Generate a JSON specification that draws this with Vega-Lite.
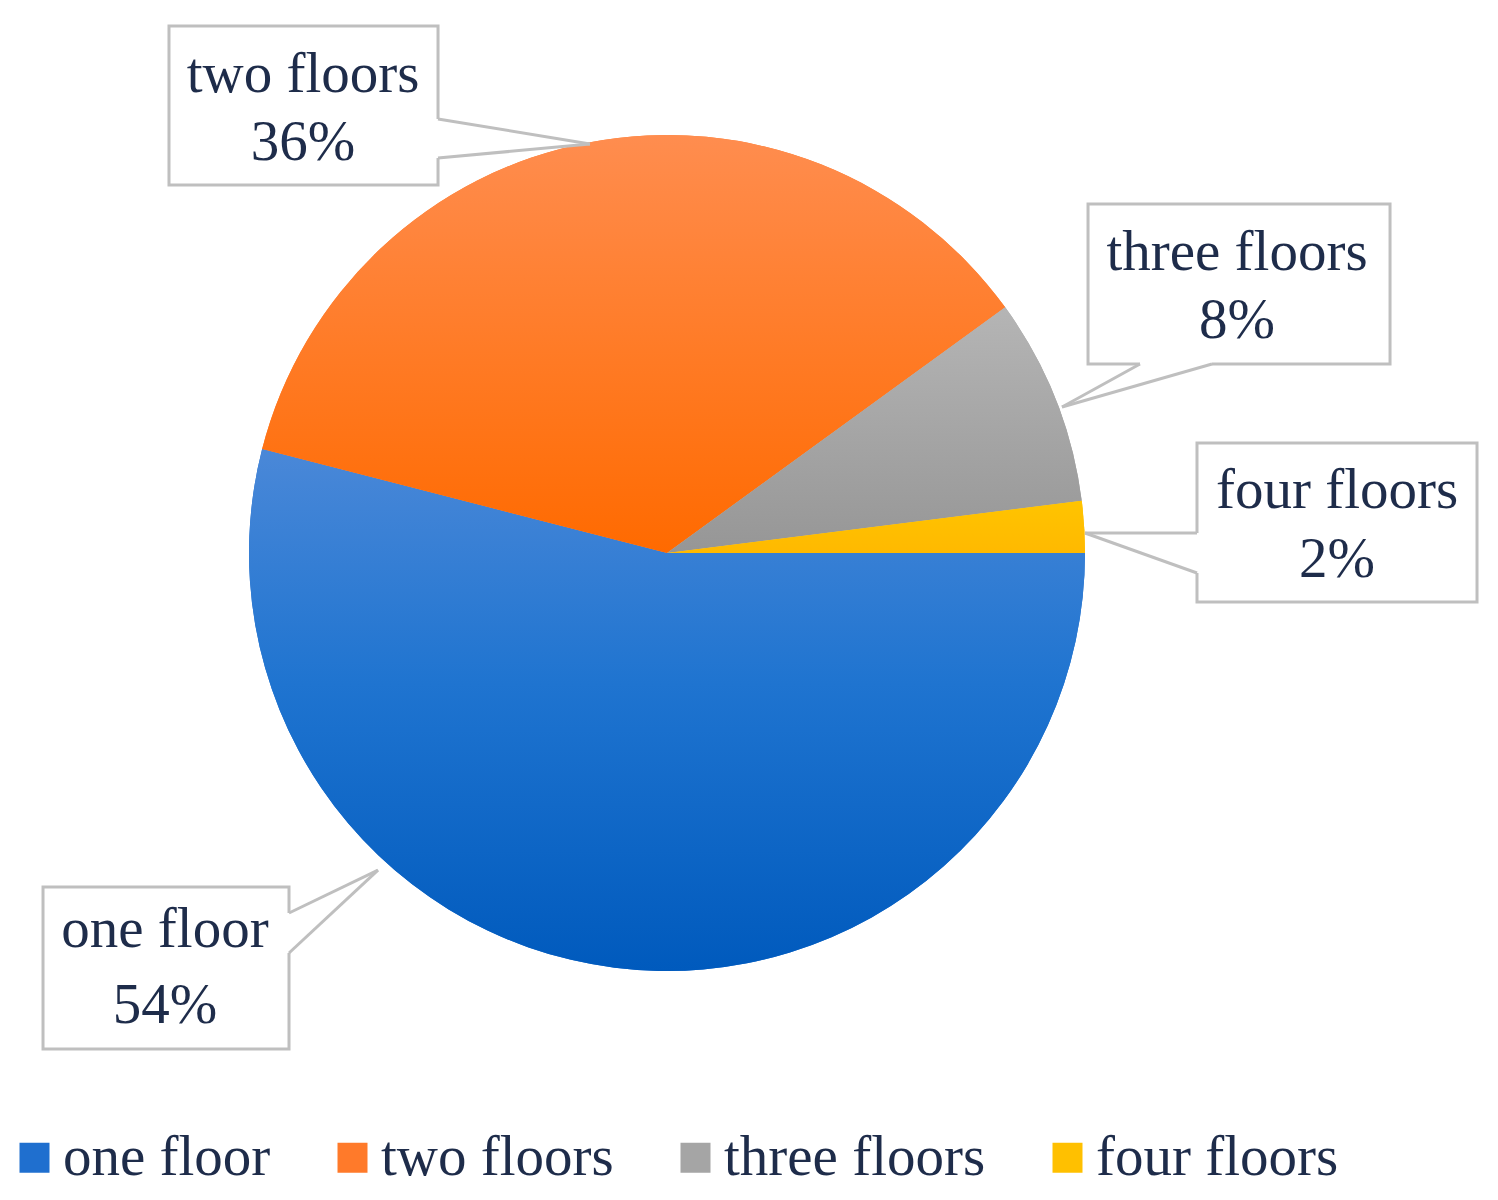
{
  "$schema": "https://vega.github.io/schema/vega-lite/v6.json",
  "width": 1498,
  "height": 1200,
  "padding": 0,
  "autosize": {"type": "none"},
  "background": "#ffffff",
  "config": {
    "view": {"stroke": null},
    "text": {"font": "Liberation Serif", "fontSize": 57, "fill": "#1e2c4a", "align": "center", "baseline": "alphabetic"},
    "legend": {
      "orient": "none", "legendX": 6, "legendY": 1129, "direction": "horizontal",
      "symbolType": "square", "symbolSize": 900, "symbolStrokeWidth": 0,
      "labelFont": "Liberation Serif", "labelFontSize": 57, "labelColor": "#1e2c4a",
      "labelOffset": 0, "columnPadding": 53, "padding": 0, "labelLimit": 0
    }
  },
  "data": {"values": [
    {"category": "one floor", "n": 1, "share": 0.54},
    {"category": "two floors", "n": 2, "share": 0.36},
    {"category": "three floors", "n": 3, "share": 0.08},
    {"category": "four floors", "n": 4, "share": 0.02}
  ]},
  "layer": [
    {
      "transform": [{"stack": "share", "groupby": [], "offset": "normalize", "sort": [{"field": "n", "order": "ascending"}], "as": ["s0", "s1"]}],
      "mark": {"type": "arc", "radius": 418},
      "encoding": {
        "x": {"datum": 0, "type": "quantitative", "scale": {"domain": [-159.57, 198.80], "nice": false, "zero": false}, "axis": null},
        "y": {"datum": 0, "type": "quantitative", "scale": {"domain": [-154.78, 132.30], "nice": false, "zero": false}, "axis": null},
        "theta": {"field": "s0", "type": "quantitative", "scale": {"domain": [0, 1], "range": [1.5707963, 7.8539816]}},
        "theta2": {"field": "s1"},
        "color": {"field": "category", "type": "nominal",
          "scale": {"domain": ["one floor", "two floors", "three floors", "four floors"], "range": ["#1f6fcf", "#ff7a2a", "#a5a5a5", "#ffc000"]},
          "legend": {"title": null}}
      }
    },
    {
      "transform": [{"stack": "share", "groupby": [], "offset": "normalize", "sort": [{"field": "n", "order": "ascending"}], "as": ["s0", "s1"]}, {"filter": "datum.n == 1"}],
      "mark": {"type": "arc", "radius": 418, "fill": {"gradient": "linear", "x1": 0, "y1": 0, "x2": 0, "y2": 1, "stops": [{"offset": 0, "color": "#4a88d8"}, {"offset": 0.45, "color": "#1f74d0"}, {"offset": 1, "color": "#005abd"}]}},
      "encoding": {
        "x": {"datum": 0, "type": "quantitative"},
        "y": {"datum": 0, "type": "quantitative"},
        "theta": {"field": "s0", "type": "quantitative"},
        "theta2": {"field": "s1"}
      }
    },
    {
      "transform": [{"stack": "share", "groupby": [], "offset": "normalize", "sort": [{"field": "n", "order": "ascending"}], "as": ["s0", "s1"]}, {"filter": "datum.n == 2"}],
      "mark": {"type": "arc", "radius": 418, "fill": {"gradient": "linear", "x1": 0, "y1": 0, "x2": 0, "y2": 1, "stops": [{"offset": 0, "color": "#ff8d4f"}, {"offset": 1, "color": "#ff6a00"}]}},
      "encoding": {
        "x": {"datum": 0, "type": "quantitative"},
        "y": {"datum": 0, "type": "quantitative"},
        "theta": {"field": "s0", "type": "quantitative"},
        "theta2": {"field": "s1"}
      }
    },
    {
      "transform": [{"stack": "share", "groupby": [], "offset": "normalize", "sort": [{"field": "n", "order": "ascending"}], "as": ["s0", "s1"]}, {"filter": "datum.n == 3"}],
      "mark": {"type": "arc", "radius": 418, "fill": {"gradient": "linear", "x1": 0, "y1": 0, "x2": 0, "y2": 1, "stops": [{"offset": 0, "color": "#b5b5b5"}, {"offset": 1, "color": "#969696"}]}},
      "encoding": {
        "x": {"datum": 0, "type": "quantitative"},
        "y": {"datum": 0, "type": "quantitative"},
        "theta": {"field": "s0", "type": "quantitative"},
        "theta2": {"field": "s1"}
      }
    },
    {
      "transform": [{"stack": "share", "groupby": [], "offset": "normalize", "sort": [{"field": "n", "order": "ascending"}], "as": ["s0", "s1"]}, {"filter": "datum.n == 4"}],
      "mark": {"type": "arc", "radius": 418, "fill": {"gradient": "linear", "x1": 0, "y1": 0, "x2": 0, "y2": 1, "stops": [{"offset": 0, "color": "#ffc400"}, {"offset": 1, "color": "#ffb900"}]}},
      "encoding": {
        "x": {"datum": 0, "type": "quantitative"},
        "y": {"datum": 0, "type": "quantitative"},
        "theta": {"field": "s0", "type": "quantitative"},
        "theta2": {"field": "s1"}
      }
    },
    {
      "transform": [{"filter": "datum.n == 2"}],
      "layer": [
        {"mark": {"type": "rect", "fill": "#ffffff", "stroke": "#bfbfbf", "strokeWidth": 3},
         "encoding": {"x": {"datum": -119.14, "type": "quantitative"}, "x2": {"datum": -54.78}, "y": {"datum": 126.08, "type": "quantitative"}, "y2": {"datum": 88.04}}},
        {"mark": {"type": "rule", "stroke": "#ffffff", "strokeWidth": 5},
         "encoding": {"x": {"datum": -54.78, "type": "quantitative"}, "y": {"datum": 103.83, "type": "quantitative"}, "y2": {"datum": 94.50}}},
        {"mark": {"type": "rule", "stroke": "#bfbfbf", "strokeWidth": 3},
         "encoding": {"x": {"datum": -54.78, "type": "quantitative"}, "y": {"datum": 103.83, "type": "quantitative"}, "x2": {"datum": -18.42}, "y2": {"datum": 97.85}}},
        {"mark": {"type": "rule", "stroke": "#bfbfbf", "strokeWidth": 3},
         "encoding": {"x": {"datum": -54.78, "type": "quantitative"}, "y": {"datum": 94.50, "type": "quantitative"}, "x2": {"datum": -18.42}, "y2": {"datum": 97.85}}},
        {"mark": {"type": "text"},
         "encoding": {"x": {"datum": -87.08, "type": "quantitative"}, "y": {"datum": 110.29, "type": "quantitative"}, "text": {"field": "category"}}},
        {"mark": {"type": "text"},
         "encoding": {"x": {"datum": -87.08, "type": "quantitative"}, "y": {"datum": 94.02, "type": "quantitative"}, "text": {"field": "share", "type": "quantitative", "format": ".0%"}}}
      ]
    },
    {
      "transform": [{"filter": "datum.n == 3"}],
      "layer": [
        {"mark": {"type": "rect", "fill": "#ffffff", "stroke": "#bfbfbf", "strokeWidth": 3},
         "encoding": {"x": {"datum": 100.72, "type": "quantitative"}, "x2": {"datum": 172.97}, "y": {"datum": 83.49, "type": "quantitative"}, "y2": {"datum": 45.22}}},
        {"mark": {"type": "rule", "stroke": "#ffffff", "strokeWidth": 5},
         "encoding": {"x": {"datum": 113.16, "type": "quantitative"}, "x2": {"datum": 130.38}, "y": {"datum": 45.22, "type": "quantitative"}}},
        {"mark": {"type": "rule", "stroke": "#bfbfbf", "strokeWidth": 3},
         "encoding": {"x": {"datum": 113.16, "type": "quantitative"}, "y": {"datum": 45.22, "type": "quantitative"}, "x2": {"datum": 94.50}, "y2": {"datum": 34.93}}},
        {"mark": {"type": "rule", "stroke": "#bfbfbf", "strokeWidth": 3},
         "encoding": {"x": {"datum": 130.38, "type": "quantitative"}, "y": {"datum": 45.22, "type": "quantitative"}, "x2": {"datum": 94.50}, "y2": {"datum": 34.93}}},
        {"mark": {"type": "text"},
         "encoding": {"x": {"datum": 136.36, "type": "quantitative"}, "y": {"datum": 67.70, "type": "quantitative"}, "text": {"field": "category"}}},
        {"mark": {"type": "text"},
         "encoding": {"x": {"datum": 136.36, "type": "quantitative"}, "y": {"datum": 51.44, "type": "quantitative"}, "text": {"field": "share", "type": "quantitative", "format": ".0%"}}}
      ]
    },
    {
      "transform": [{"filter": "datum.n == 4"}],
      "layer": [
        {"mark": {"type": "rect", "fill": "#ffffff", "stroke": "#bfbfbf", "strokeWidth": 3},
         "encoding": {"x": {"datum": 126.79, "type": "quantitative"}, "x2": {"datum": 193.78}, "y": {"datum": 26.32, "type": "quantitative"}, "y2": {"datum": -11.72}}},
        {"mark": {"type": "rule", "stroke": "#ffffff", "strokeWidth": 5},
         "encoding": {"x": {"datum": 126.79, "type": "quantitative"}, "y": {"datum": 4.78, "type": "quantitative"}, "y2": {"datum": -4.78}}},
        {"mark": {"type": "rule", "stroke": "#bfbfbf", "strokeWidth": 3},
         "encoding": {"x": {"datum": 126.79, "type": "quantitative"}, "y": {"datum": 4.78, "type": "quantitative"}, "x2": {"datum": 100.0}, "y2": {"datum": 4.78}}},
        {"mark": {"type": "rule", "stroke": "#bfbfbf", "strokeWidth": 3},
         "encoding": {"x": {"datum": 126.79, "type": "quantitative"}, "y": {"datum": -4.78, "type": "quantitative"}, "x2": {"datum": 100.0}, "y2": {"datum": 4.78}}},
        {"mark": {"type": "text"},
         "encoding": {"x": {"datum": 160.29, "type": "quantitative"}, "y": {"datum": 10.77, "type": "quantitative"}, "text": {"field": "category"}}},
        {"mark": {"type": "text"},
         "encoding": {"x": {"datum": 160.29, "type": "quantitative"}, "y": {"datum": -5.74, "type": "quantitative"}, "text": {"field": "share", "type": "quantitative", "format": ".0%"}}}
      ]
    },
    {
      "transform": [{"filter": "datum.n == 1"}],
      "layer": [
        {"mark": {"type": "rect", "fill": "#ffffff", "stroke": "#bfbfbf", "strokeWidth": 3},
         "encoding": {"x": {"datum": -149.28, "type": "quantitative"}, "x2": {"datum": -90.43}, "y": {"datum": -79.90, "type": "quantitative"}, "y2": {"datum": -118.66}}},
        {"mark": {"type": "rule", "stroke": "#ffffff", "strokeWidth": 5},
         "encoding": {"x": {"datum": -90.43, "type": "quantitative"}, "y": {"datum": -86.12, "type": "quantitative"}, "y2": {"datum": -95.69}}},
        {"mark": {"type": "rule", "stroke": "#bfbfbf", "strokeWidth": 3},
         "encoding": {"x": {"datum": -90.43, "type": "quantitative"}, "y": {"datum": -86.12, "type": "quantitative"}, "x2": {"datum": -69.14}, "y2": {"datum": -75.84}}},
        {"mark": {"type": "rule", "stroke": "#bfbfbf", "strokeWidth": 3},
         "encoding": {"x": {"datum": -90.43, "type": "quantitative"}, "y": {"datum": -95.69, "type": "quantitative"}, "x2": {"datum": -69.14}, "y2": {"datum": -75.84}}},
        {"mark": {"type": "text"},
         "encoding": {"x": {"datum": -120.10, "type": "quantitative"}, "y": {"datum": -94.26, "type": "quantitative"}, "text": {"field": "category"}}},
        {"mark": {"type": "text"},
         "encoding": {"x": {"datum": -120.10, "type": "quantitative"}, "y": {"datum": -112.44, "type": "quantitative"}, "text": {"field": "share", "type": "quantitative", "format": ".0%"}}}
      ]
    }
  ]
}
